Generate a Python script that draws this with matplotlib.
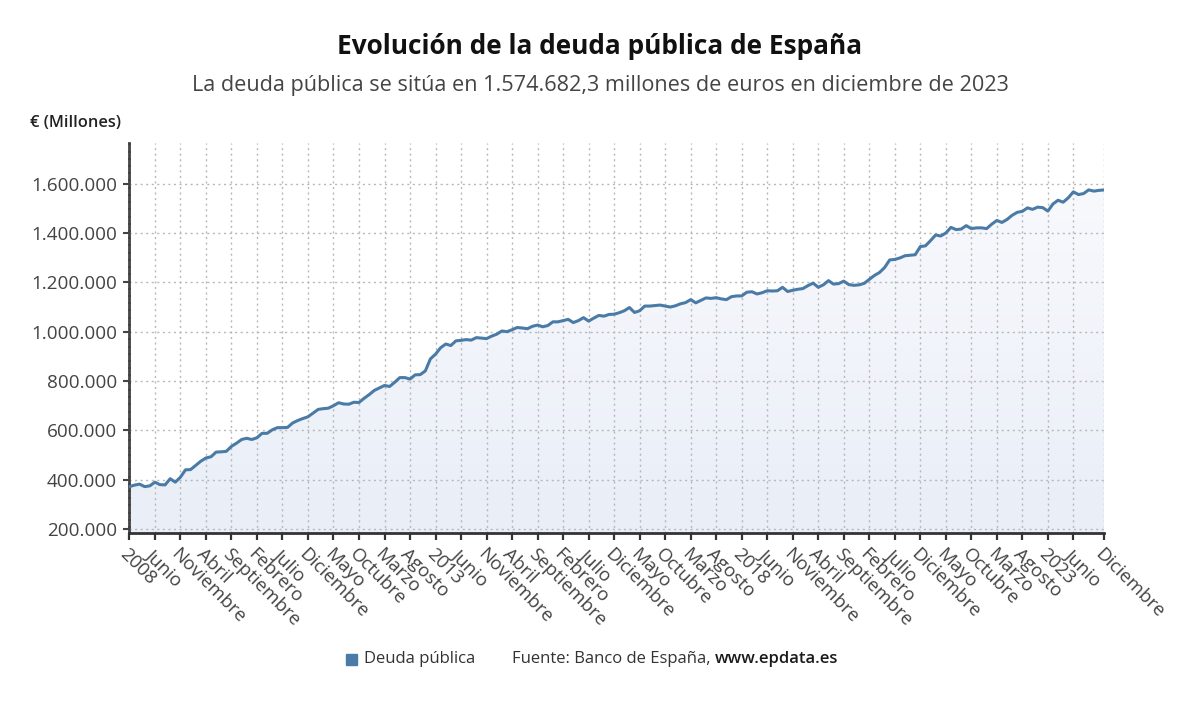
import matplotlib
matplotlib.use("Agg")
import matplotlib.pyplot as plt
import numpy as np
from matplotlib.ticker import FuncFormatter
from matplotlib.colors import LinearSegmentedColormap
from matplotlib.patches import PathPatch

plt.rcParams['font.family'] = ['Open Sans', 'DejaVu Sans']

# ---- data (millones de euros), enero 2008 - diciembre 2023 ----
start_year = 2008
deuda = [
    372000, 378000, 382000, 372000, 375000, 390000, 380000, 379000, 404000, 390000, 410000, 440000,   # 2008
    441000, 458000, 475000, 488000, 493000, 512000, 513000, 515000, 535000, 548000, 563000, 568000,   # 2009
    563000, 570000, 588000, 588000, 602000, 611000, 611000, 612000, 630000, 640000, 648000, 655000,   # 2010
    670000, 685000, 688000, 690000, 700000, 712000, 707000, 706000, 714000, 713000, 730000, 745000,   # 2011
    762000, 772000, 782000, 778000, 795000, 814000, 814000, 808000, 825000, 826000, 841000, 890000,   # 2012
    909000, 935000, 950000, 944000, 963000, 965000, 968000, 966000, 976000, 974000, 972000, 982000,   # 2013
    990000, 1003000, 1000000, 1008000, 1017000, 1015000, 1012000, 1022000, 1027000, 1020000, 1025000, 1040000,  # 2014
    1040000, 1045000, 1050000, 1037000, 1045000, 1057000, 1043000, 1055000, 1066000, 1063000, 1070000, 1071000,  # 2015
    1077000, 1085000, 1098000, 1078000, 1085000, 1104000, 1104000, 1106000, 1108000, 1104000, 1100000, 1105000,  # 2016
    1113000, 1118000, 1130000, 1117000, 1127000, 1137000, 1135000, 1138000, 1133000, 1130000, 1142000, 1145000,  # 2017
    1145000, 1160000, 1162000, 1153000, 1158000, 1166000, 1165000, 1166000, 1180000, 1163000, 1168000, 1172000,  # 2018
    1175000, 1187000, 1197000, 1180000, 1190000, 1207000, 1193000, 1195000, 1205000, 1191000, 1188000, 1190000,  # 2019
    1196000, 1212000, 1228000, 1240000, 1260000, 1291000, 1293000, 1299000, 1308000, 1310000, 1312000, 1345000,  # 2020
    1348000, 1369000, 1392000, 1388000, 1400000, 1423000, 1414000, 1416000, 1430000, 1418000, 1421000, 1421000,  # 2021
    1418000, 1436000, 1451000, 1443000, 1455000, 1472000, 1484000, 1488000, 1502000, 1496000, 1505000, 1503000,  # 2022
    1489000, 1518000, 1533000, 1525000, 1543000, 1567000, 1556000, 1560000, 1575000, 1570000, 1573000, 1574682.3,  # 2023
]
meses = ["Enero", "Febrero", "Marzo", "Abril", "Mayo", "Junio", "Julio",
         "Agosto", "Septiembre", "Octubre", "Noviembre", "Diciembre"]
yticks = [200000, 400000, 600000, 800000, 1000000, 1200000, 1400000, 1600000]

titulo = "Evolución de la deuda pública de España"
subtitulo = "La deuda pública se sitúa en 1.574.682,3 millones de euros en diciembre de 2023"
serie = "Deuda pública"

# ---- figure ----
fig = plt.figure(figsize=(12, 7.05), dpi=100)
ax = fig.add_axes([0.1078, 0.2440, 0.9200 - 0.1078, 0.7975 - 0.2440])

x = np.arange(len(deuda))
y = np.array(deuda)
ymin, ymax = 184000, 1766000

line_color = "#4a7ba7"

# gradient fill under the line
grad = np.linspace(0, 1, 256).reshape(-1, 1)
cmap = LinearSegmentedColormap.from_list("g", ["#e9eef7", "#f8f9fd"])
im = ax.imshow(grad, extent=[x[0], x[-1], ymin, y.max()], origin="lower",
               aspect="auto", cmap=cmap, zorder=1)
poly = ax.fill_between(x, ymin, y, color="none")
clip = poly.get_paths()[0]
patch = PathPatch(clip, transform=ax.transData, facecolor="none", edgecolor="none")
ax.add_patch(patch)
im.set_clip_path(patch)

ax.plot(x, y, color=line_color, lw=2.2, zorder=3, solid_joinstyle="round")

ax.set_xlim(x[0], x[-1])
ax.set_ylim(ymin, ymax)

# x ticks every 5 months + last
tick_idx = list(range(0, len(deuda) - 2, 5)) + [len(deuda) - 1]
labels = []
for i in tick_idx:
    yr = start_year + i // 12
    mo = i % 12
    labels.append(str(yr) if mo == 0 else meses[mo])
ax.set_xticks(tick_idx)
ax.set_xticklabels(labels, rotation=-45, ha="left", va="top",
                   rotation_mode="anchor", fontsize=13.5, color="#444444")

ax.set_yticks(yticks)
ax.yaxis.set_major_formatter(FuncFormatter(lambda v, p: f"{int(v):,}".replace(",", ".")))
for t in ax.get_yticklabels():
    t.set_fontsize(13.6)
    t.set_color("#444444")

ax.grid(True, color="#b8b8b8", linestyle=(0, (1.5, 2.5)), linewidth=1, zorder=2)
for gl in ax.get_xgridlines() + ax.get_ygridlines():
    gl.set_zorder(2)

for s in ["top", "right"]:
    ax.spines[s].set_visible(False)
ax.spines["left"].set_color("#444444")
ax.spines["left"].set_linewidth(2)
ax.spines["left"].set_linestyle((0, (2, 0.6)))
ax.spines["bottom"].set_color("#333333")
ax.spines["bottom"].set_linewidth(2)
ax.tick_params(axis="x", length=5, width=1.6, color="#333333", pad=4)
ax.tick_params(axis="y", length=4, width=1.5, color="#444444", pad=5)

# texts
fig.text(0.5, 1 - 47 / 705, titulo, ha="center", va="center",
         fontsize=18.9, fontweight="bold", color="#111111")
fig.text(0.5, 1 - 86 / 705, subtitulo, ha="center", va="center",
         fontsize=15.6, color="#444444")
fig.text(30 / 1200, 1 - 123 / 705, "€ (Millones)", ha="left", va="center",
         fontsize=11.8, fontweight="semibold", color="#222222")

# legend / source
fig.patches.append(plt.Rectangle((346 / 1200, 1 - 665 / 705), 11 / 1200, 11 / 705,
                                 transform=fig.transFigure, color=line_color))
fig.text(364 / 1200, 1 - 659 / 705, serie, ha="left", va="center",
         fontsize=12, color="#333333")
t1 = fig.text(512 / 1200, 1 - 659 / 705, "Fuente: Banco de España, ", ha="left",
              va="center", fontsize=12, color="#333333")
fig.canvas.draw()
bb = t1.get_window_extent()
fig.text(bb.x1 / fig.bbox.width, 1 - 659 / 705, "www.epdata.es", ha="left",
         va="center", fontsize=12, fontweight="semibold", color="#1a1a1a")

fig.savefig("out.png", dpi=100, facecolor="white")
